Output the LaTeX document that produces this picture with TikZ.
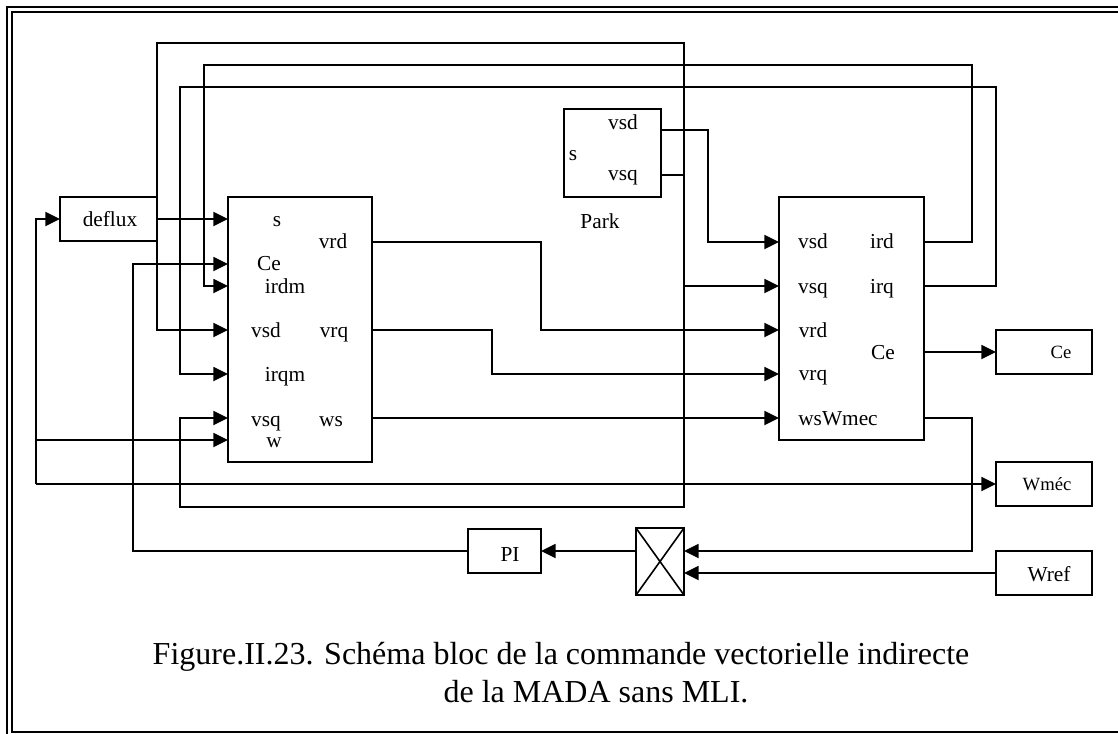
\documentclass[tikz,border=0pt]{standalone}
\usepackage{fontspec}
\setmainfont{Liberation Serif}
\usetikzlibrary{arrows.meta,fit,calc}
\begin{document}
\begin{tikzpicture}[x=0.75pt,y=-0.75pt,
  wire/.style={line width=1.4pt},
  arr/.style={wire,-{Triangle[length=11pt,width=10.5pt]}},
  box/.style={draw,line width=1.4pt,inner sep=0pt,outer sep=0pt,fit={#1}},
  lbl/.style={anchor=base,font=\fontsize{16}{19}\selectfont,inner sep=0pt},
  sml/.style={anchor=base,font=\fontsize{14}{17}\selectfont,inner sep=0pt},
  captxt/.style={anchor=base,font=\fontsize{24}{28}\selectfont,inner sep=0pt},
]
\useasboundingbox (0,0) rectangle (1118,733);
\clip (0,0) rectangle (1118,733);
% frame
\draw[line width=1.9pt] (7,740) -- (7,7) -- (1125,7);
\draw[line width=1.5pt] (1125,12) -- (12,12) -- (12,731.5) -- (1125,731.5);

% boxes
\node[box={(60,197) (157,241)}] (deflux) {};
\node[box={(228,197) (372,462)}] (b1) {};
\node[box={(779,197) (924,440)}] (b2) {};
\node[box={(564,109) (661,197)}] (park) {};
\node[box={(996,330) (1092,374)}] (ceout) {};
\node[box={(996,462) (1092,506)}] (wmec) {};
\node[box={(996,551) (1092,595)}] (wref) {};
\node[box={(468,529) (541,573)}] (pi) {};
\node[box={(636,528) (684,595)}] (xb) {};
\draw[line width=1.2pt] (xb.north west) -- (xb.south east) (xb.north east) -- (xb.south west);

% ports
\coordinate (b1-s)    at ($(b1.north west)+(0,22)$);
\coordinate (b1-ce)   at ($(b1.north west)+(0,67)$);
\coordinate (b1-irdm) at ($(b1.north west)+(0,89)$);
\coordinate (b1-vsd)  at ($(b1.north west)+(0,133)$);
\coordinate (b1-irqm) at ($(b1.north west)+(0,177)$);
\coordinate (b1-vsq)  at ($(b1.north west)+(0,221)$);
\coordinate (b1-w)    at ($(b1.north west)+(0,243)$);
\coordinate (b1-vrd)  at ($(b1.north east)+(0,45)$);
\coordinate (b1-vrq)  at ($(b1.north east)+(0,133)$);
\coordinate (b1-ws)   at ($(b1.north east)+(0,221)$);
\coordinate (b2-vsd)  at ($(b2.north west)+(0,45)$);
\coordinate (b2-vsq)  at ($(b2.north west)+(0,89)$);
\coordinate (b2-vrd)  at ($(b2.north west)+(0,133)$);
\coordinate (b2-vrq)  at ($(b2.north west)+(0,177)$);
\coordinate (b2-ws)   at ($(b2.north west)+(0,221)$);
\coordinate (b2-ird)  at ($(b2.north east)+(0,45)$);
\coordinate (b2-irq)  at ($(b2.north east)+(0,89)$);
\coordinate (b2-ce)   at ($(b2.north east)+(0,155)$);
\coordinate (b2-wsw)  at ($(b2.north east)+(0,221)$);
\coordinate (park-vsd) at ($(park.north east)+(0,21)$);
\coordinate (park-vsq) at ($(park.north east)+(0,66)$);
\coordinate (xb-in1)  at ($(xb.north east)+(0,23)$);
\coordinate (xb-in2)  at ($(xb.north east)+(0,45)$);
\coordinate (xb-out)  at ($(xb.north west)+(0,23)$);
\coordinate (wn) at (36,484);

% labels
\node[lbl] (t-deflux) at (110,226) {deflux};
\node[lbl] (t1-s) at (277,226) {s};
\node[lbl] (t1-vrd) at (333,248) {vrd};
\node[lbl] (t1-ce) at (269,270) {Ce};
\node[lbl] (t1-irdm) at (285,293) {irdm};
\node[lbl] (t1-vsd) at (266,337) {vsd};
\node[lbl] (t1-vrq) at (334,337) {vrq};
\node[lbl] (t1-irqm) at (285,381) {irqm};
\node[lbl] (t1-vsq) at (266,426) {vsq};
\node[lbl] (t1-ws) at (331,426) {ws};
\node[lbl] (t1-w) at (274,447) {w};
\node[lbl] (t2-vsd) at (813,248) {vsd};
\node[lbl] (t2-ird) at (882,248) {ird};
\node[lbl] (t2-vsq) at (813,293) {vsq};
\node[lbl] (t2-irq) at (882,293) {irq};
\node[lbl] (t2-vrd) at (813,337) {vrd};
\node[lbl] (t2-ce) at (883,359) {Ce};
\node[lbl] (t2-vrq) at (813,380) {vrq};
\node[lbl] (t2-wsw) at (838,425) {wsWmec};
\node[lbl] (tp-vsd) at (623,129) {vsd};
\node[lbl] (tp-s) at (573,160) {s};
\node[lbl] (tp-vsq) at (623,180) {vsq};
\node[lbl] (tp-park) at (600,228) {Park};
\node[lbl] (t-pi) at (510,561) {PI};
\node[sml] (t-ce) at (1061,358) {Ce};
\node[sml] (t-wmec) at (1047,490) {Wméc};
\node[lbl] (t-wref) at (1049,581) {Wref};
\node[captxt] (cap1) at (561,664) {Figure.II.23. Schéma bloc de la commande vectorielle indirecte};
\node[captxt] (cap2) at (596,702) {de la MADA sans MLI.};

% connectors
\draw[arr] (deflux.east) -- (b1-s);
\draw[arr] (wn) -- (wmec.west);
\draw[arr] (wn) |- (deflux.west);
\draw[arr] (36,440) -- (b1-w);
\draw[arr] (park-vsd) -| (708,242) -- (b2-vsd);
\draw[arr] (684,130) |- (157,43) -- (157,330) -- (b1-vsd);
\draw[wire] (park-vsq) -- (684,175);
\draw[arr] (684,130) -- (684,507) -| (180,418) -- (b1-vsq);
\draw[arr] (684,286) -- (b2-vsq);
\draw[arr] (b2-ird) -| (972,65) -| (204,286) -- (b1-irdm);
\draw[arr] (b2-irq) -| (996,87) -| (180,374) -- (b1-irqm);
\draw[arr] (b1-vrd) -| (541,330) -- (b2-vrd);
\draw[arr] (b1-vrq) -| (492,374) -- (b2-vrq);
\draw[arr] (b1-ws) -- (b2-ws);
\draw[arr] (b2-ce) -- (ceout.west);
\draw[arr] (b2-wsw) -| (972,551) -- (xb-in1);
\draw[arr] (wref.west) -- (xb-in2);
\draw[arr] (xb-out) -- (pi.east);
\draw[arr] (pi.west) -| (133,264) -- (b1-ce);
\end{tikzpicture}
\end{document}
